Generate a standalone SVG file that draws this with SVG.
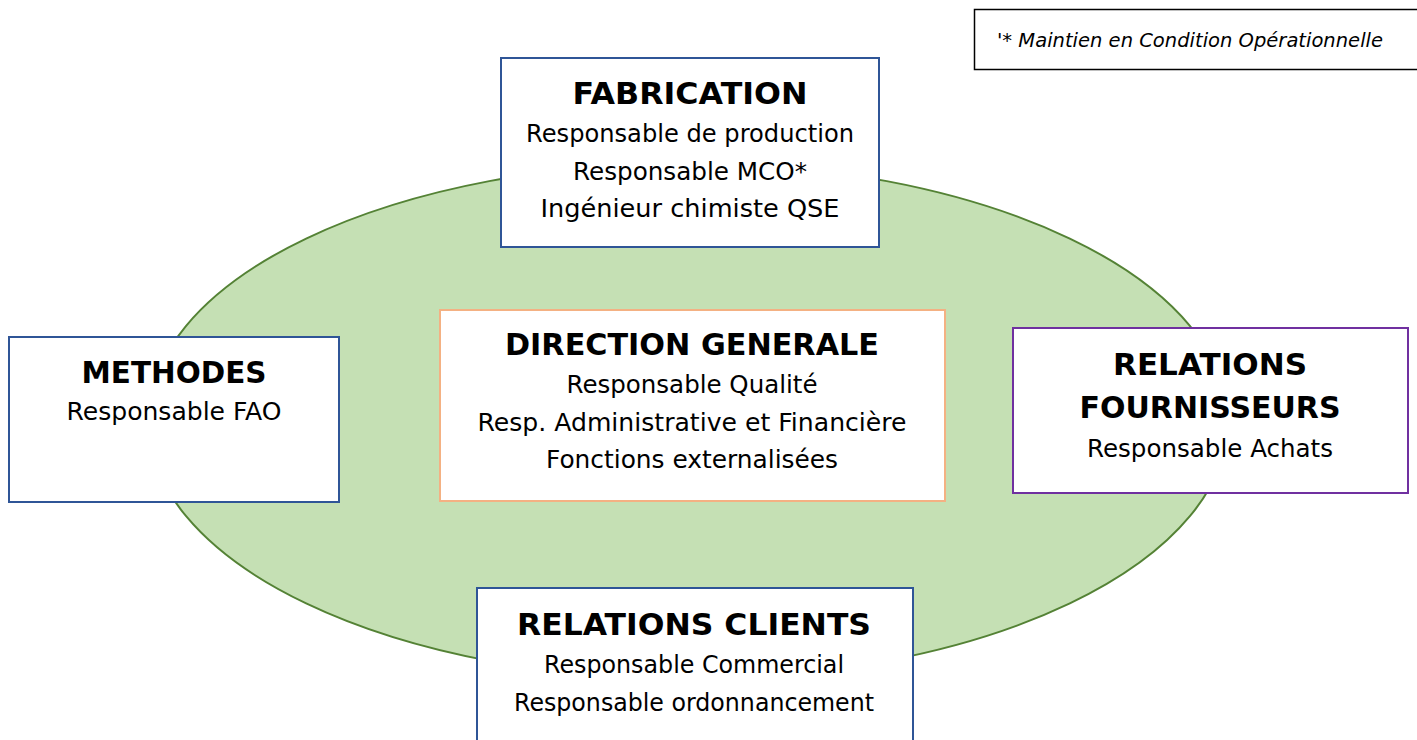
<svg xmlns="http://www.w3.org/2000/svg" width="1417" height="740" viewBox="0 0 1417 740">
  <style>
    .box { fill: #ffffff; stroke-width: 2; }
    .blue { stroke: #2f5597; }
    .orange { stroke: #f4b183; }
    .purple { stroke: #7030a0; }
    .title { font-family: "DejaVu Sans", "Noto Sans", sans-serif; font-weight: bold; font-size: 30px; fill: #000000; text-anchor: middle; }
    .line { font-family: "DejaVu Sans", "Noto Sans", sans-serif; font-size: 24px; fill: #000000; text-anchor: middle; }
    .note { font-family: "DejaVu Sans", "Noto Sans", sans-serif; font-style: italic; font-size: 19px; fill: #000000; }
  </style>
  <rect width="1417" height="740" fill="#ffffff"/>
  <g id="ellipse">
    <ellipse cx="688" cy="421" rx="540" ry="258" fill="#c5e0b4" stroke="#548235" stroke-width="2"/>
  </g>
  <g id="connectors"></g>
  <g id="note">
    <rect x="974.5" y="9.5" width="450" height="60" fill="#ffffff" stroke="#000000" stroke-width="1.5"/>
    <text class="note" x="997" y="47" textLength="386" lengthAdjust="spacingAndGlyphs">'* Maintien en Condition Opérationnelle</text>
  </g>
  <g id="fabrication">
    <rect class="box blue" x="501" y="58" width="378" height="189"/>
    <text class="title" x="690" y="104" textLength="235" lengthAdjust="spacingAndGlyphs">FABRICATION</text>
    <text class="line" x="690" y="142" textLength="328" lengthAdjust="spacingAndGlyphs">Responsable de production</text>
    <text class="line" x="690" y="180" textLength="234" lengthAdjust="spacingAndGlyphs">Responsable MCO*</text>
    <text class="line" x="690" y="217" textLength="299" lengthAdjust="spacingAndGlyphs">Ingénieur chimiste QSE</text>
  </g>
  <g id="methodes">
    <rect class="box blue" x="9" y="337" width="330" height="165"/>
    <text class="title" x="174" y="383" textLength="185" lengthAdjust="spacingAndGlyphs">METHODES</text>
    <text class="line" x="174" y="420" textLength="215" lengthAdjust="spacingAndGlyphs">Responsable FAO</text>
  </g>
  <g id="direction">
    <rect class="box orange" x="440" y="310" width="505" height="191"/>
    <text class="title" x="692" y="355" textLength="374" lengthAdjust="spacingAndGlyphs">DIRECTION GENERALE</text>
    <text class="line" x="692" y="393" textLength="251" lengthAdjust="spacingAndGlyphs">Responsable Qualité</text>
    <text class="line" x="692" y="431" textLength="429" lengthAdjust="spacingAndGlyphs">Resp. Administrative et Financière</text>
    <text class="line" x="692" y="468" textLength="292" lengthAdjust="spacingAndGlyphs">Fonctions externalisées</text>
  </g>
  <g id="fournisseurs">
    <rect class="box purple" x="1013" y="328" width="395" height="165"/>
    <text class="title" x="1210" y="375" textLength="194" lengthAdjust="spacingAndGlyphs">RELATIONS</text>
    <text class="title" x="1210" y="418" textLength="261" lengthAdjust="spacingAndGlyphs">FOURNISSEURS</text>
    <text class="line" x="1210" y="457" textLength="246" lengthAdjust="spacingAndGlyphs">Responsable Achats</text>
  </g>
  <g id="clients">
    <rect class="box blue" x="477" y="588" width="436" height="170"/>
    <text class="title" x="694" y="635" textLength="354" lengthAdjust="spacingAndGlyphs">RELATIONS CLIENTS</text>
    <text class="line" x="694" y="673" textLength="300" lengthAdjust="spacingAndGlyphs">Responsable Commercial</text>
    <text class="line" x="694" y="711" textLength="360" lengthAdjust="spacingAndGlyphs">Responsable ordonnancement</text>
  </g>
</svg>
